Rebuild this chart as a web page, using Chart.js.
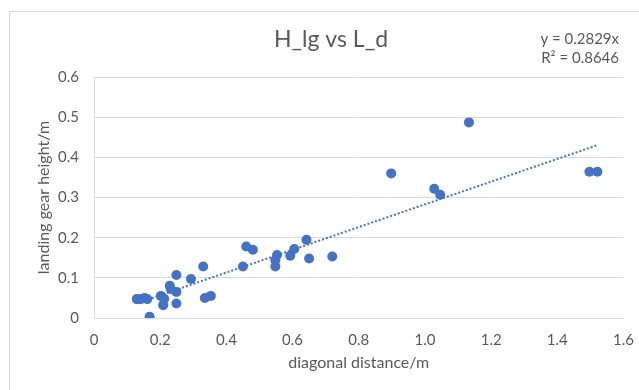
<!DOCTYPE html>
<html>
<head>
<meta charset="utf-8">
<script src="https://cdn.jsdelivr.net/npm/chart.js@4"></script>
<style>
  body { margin: 0; background: #fff; }
  #wrap { position: relative; width: 639px; height: 390px; overflow: hidden; }
  #frame { position: absolute; left: 9px; top: 11px; width: 700px; height: 500px; border: 1px solid #d9d9d9; }
  canvas { position: absolute; left: 0; top: 0; }
</style>
</head>
<body>
<div id="wrap">
  <div id="frame"></div>
  <canvas id="chart" width="639" height="390"></canvas>
</div>
<script>
// diagonal distance (m) and landing gear height (m)
const diagDist = [0.129, 0.141, 0.153, 0.161, 0.168, 0.202, 0.212, 0.209, 0.229, 0.232,
  0.249, 0.249, 0.249, 0.293, 0.330, 0.335, 0.353, 0.450, 0.460, 0.480,
  0.553, 0.548, 0.548, 0.593, 0.605, 0.642, 0.650, 0.720, 0.898, 1.028,
  1.046, 1.133, 1.497, 1.521];
const gearHeight = [0.047, 0.047, 0.050, 0.047, 0.003, 0.055, 0.048, 0.032, 0.080, 0.072,
  0.107, 0.065, 0.036, 0.097, 0.128, 0.050, 0.055, 0.128, 0.178, 0.170,
  0.157, 0.144, 0.128, 0.155, 0.172, 0.195, 0.148, 0.153, 0.360, 0.322,
  0.307, 0.487, 0.364, 0.364];
const xTicks = [0, 0.2, 0.4, 0.6, 0.8, 1, 1.2, 1.4, 1.6];
const yTicks = [0, 0.1, 0.2, 0.3, 0.4, 0.5, 0.6];
const trendSlope = 0.2829;
const rSquared = 0.8646;

const points = diagDist.map((x, i) => ({ x, y: gearHeight[i] }));
const xMin = Math.min(...diagDist), xMax = Math.max(...diagDist);
const trend = [{ x: xMin, y: trendSlope * xMin }, { x: xMax, y: trendSlope * xMax }];

const grey = '#595959';
const font = 'Lato';

// title, y axis title and trendline equation, drawn as in the Excel chart
const labels = {
  id: 'labels',
  afterDraw(chart) {
    const ctx = chart.ctx;
    const area = chart.chartArea;
    ctx.save();
    ctx.fillStyle = grey;
    ctx.textBaseline = 'middle';
    ctx.textAlign = 'center';
    ctx.font = `23px ${font}`;
    ctx.fillText('H_lg vs L_d', 331, 40);

    ctx.save();
    ctx.translate(44, (area.top + area.bottom) / 2);
    ctx.rotate(-Math.PI / 2);
    ctx.font = `16px ${font}`;
    ctx.fillText('landing gear height/m', 0, 0);
    ctx.restore();

    ctx.textAlign = 'right';
    ctx.font = `15px ${font}`;
    ctx.fillText(`y = ${trendSlope}x`, 619, 39);
    ctx.fillText(`R² = ${rSquared}`, 619, 58);
    ctx.restore();
  }
};

new Chart(document.getElementById('chart'), {
  type: 'scatter',
  data: {
    datasets: [{
      type: 'line',
      data: trend,
      borderColor: '#4472C4',
      borderWidth: 2,
      borderDash: [2, 2],
      pointRadius: 0,
      fill: false
    }, {
      data: points,
      backgroundColor: '#4472C4',
      borderWidth: 0,
      pointRadius: 5
    }]
  },
  options: {
    responsive: false,
    animation: false,
    devicePixelRatio: 1,
    layout: { padding: { left: 0, right: 10, top: 77, bottom: 0 } },
    plugins: { legend: { display: false }, tooltip: { enabled: false } },
    scales: {
      x: {
        type: 'linear', min: 0, max: 1.6,
        afterBuildTicks: s => { s.ticks = xTicks.map(v => ({ value: v })); },
        afterFit: s => { s.height = 72; },
        grid: { display: false },
        border: { display: true, color: '#d9d9d9' },
        ticks: { color: grey, font: { family: font, size: 15 }, padding: 5 },
        title: { display: true, text: 'diagonal distance/m', color: grey,
          font: { family: font, size: 16 }, padding: { top: 0, bottom: 18 } }
      },
      y: {
        min: 0, max: 0.6,
        afterBuildTicks: s => { s.ticks = yTicks.map(v => ({ value: v })); },
        afterFit: s => { s.width = 94; },
        grid: { color: '#d9d9d9', drawTicks: false },
        border: { display: true, color: '#d9d9d9' },
        ticks: { color: grey, font: { family: font, size: 15 }, padding: 15 }
      }
    }
  },
  plugins: [labels]
});
</script>
</body>
</html>
